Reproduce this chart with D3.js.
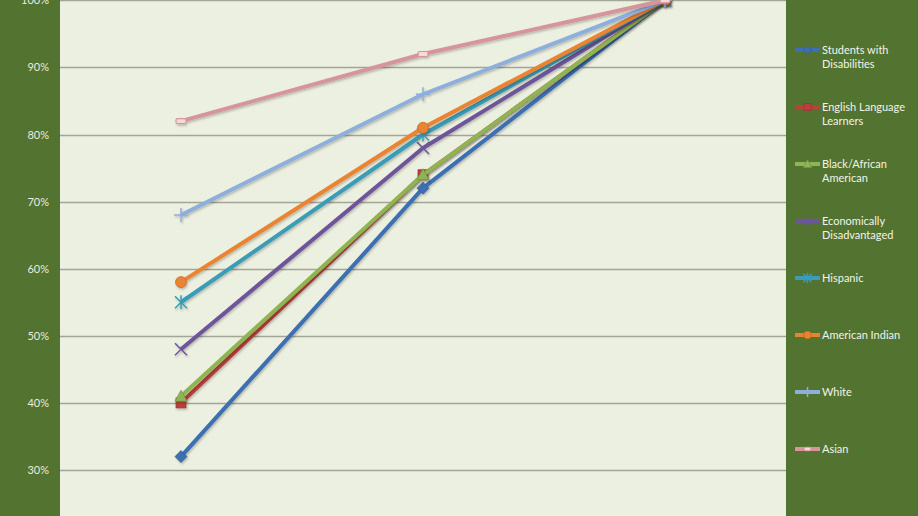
<!DOCTYPE html>
<html><head><meta charset="utf-8">
<script src="https://cdn.jsdelivr.net/npm/d3@7"></script>
<style>
html,body{margin:0;padding:0;background:#537330;}
svg{display:block;}
text{font-family:Lato,"Open Sans",sans-serif;}
</style></head>
<body>
<svg id="c" width="918" height="516"></svg>
<script>
const categories = ["A", "B", "C"];
const seriesNames = ["Students with Disabilities","English Language Learners","Black/African American","Economically Disadvantaged","Hispanic","American Indian","White","Asian"];
const swd = [32, 72, 100];
const ell = [40, 74, 100];
const black = [41, 74, 100];
const econ = [48, 78, 100];
const hispanic = [55, 80, 100];
const amIndian = [58, 81, 100];
const white = [68, 86, 100];
const asian = [82, 92, 100];
const yTicks = [30, 40, 50, 60, 70, 80, 90, 100];
const legendLines = [["Students with","Disabilities"],["English Language","Learners"],["Black/African","American"],["Economically","Disadvantaged"],["Hispanic"],["American Indian"],["White"],["Asian"]];

const values = [swd, ell, black, econ, hispanic, amIndian, white, asian];
const colors = ["#3d6fb2","#b8413c","#8fb553","#6e559b","#3a9cb8","#ea8330","#8eafdc","#d6959a"];
const markers = ["diamond","square","triangle","x","star","circle","plus","dash"];

const svg = d3.select("#c");
const W = 918, H = 516;
const plot = {l:60, r:786, t:0, b:516};
svg.append("rect").attr("x",0).attr("y",0).attr("width",W).attr("height",H).attr("fill","#537330");
svg.append("rect").attr("x",plot.l).attr("y",plot.t).attr("width",plot.r-plot.l).attr("height",plot.b-plot.t).attr("fill","#ecf0e0");

const x = d3.scalePoint().domain(categories).range([plot.l, plot.r]).padding(0.5);
const y = d3.scaleLinear().domain([30, 100]).range([470, 0.3]);

// gridlines
svg.append("g").selectAll("line").data(yTicks).join("line")
  .attr("x1",plot.l).attr("x2",plot.r)
  .attr("y1",d=>Math.round(y(d))+0.5).attr("y2",d=>Math.round(y(d))+0.5)
  .attr("stroke","#a3a596").attr("stroke-width",1.3);

// y axis labels
const yAxis = d3.axisLeft(y).tickValues(yTicks).tickFormat(d=>d+"%").tickSize(0).tickPadding(11);
const ga = svg.append("g").attr("transform",`translate(${plot.l},0)`).call(yAxis);
ga.select(".domain").remove();
ga.selectAll("text").attr("fill","#e9ecdc").style("font-size","11px").style("font-family","Lato, 'Open Sans', sans-serif");

const defs = svg.append("defs");
const f = defs.append("filter").attr("id","sh").attr("x","-20%").attr("y","-20%").attr("width","140%").attr("height","140%");
f.append("feDropShadow").attr("dx",1).attr("dy",1.5).attr("stdDeviation",1).attr("flood-color","#000").attr("flood-opacity",0.25);

function drawMarker(g, type, cx, cy, color, s) {
  s = s || 1;
  const dark = d3.color(color).darker(0.6);
  if (type==="diamond") {
    g.append("path").attr("d",`M${cx},${cy-6*s}L${cx+6*s},${cy}L${cx},${cy+6*s}L${cx-6*s},${cy}Z`).attr("fill",color).attr("stroke",dark).attr("stroke-width",0.7);
  } else if (type==="square") {
    g.append("rect").attr("x",cx-5*s).attr("y",cy-5*s).attr("width",10*s).attr("height",10*s).attr("fill",color).attr("stroke",dark).attr("stroke-width",0.7);
  } else if (type==="triangle") {
    g.append("path").attr("d",`M${cx},${cy-6*s}L${cx+6*s},${cy+5*s}L${cx-6*s},${cy+5*s}Z`).attr("fill",color).attr("stroke",dark).attr("stroke-width",0.7);
  } else if (type==="x") {
    g.append("path").attr("d",`M${cx-6*s},${cy-6*s}L${cx+6*s},${cy+6*s}M${cx+6*s},${cy-6*s}L${cx-6*s},${cy+6*s}`).attr("stroke",color).attr("stroke-width",1.5);
  } else if (type==="star") {
    g.append("path").attr("d",`M${cx-6*s},${cy-6*s}L${cx+6*s},${cy+6*s}M${cx+6*s},${cy-6*s}L${cx-6*s},${cy+6*s}M${cx},${cy-7*s}L${cx},${cy+7*s}`).attr("stroke",color).attr("stroke-width",1.5);
  } else if (type==="circle") {
    g.append("circle").attr("cx",cx).attr("cy",cy).attr("r",5.5*s).attr("fill",color).attr("stroke",dark).attr("stroke-width",0.7);
  } else if (type==="plus") {
    g.append("path").attr("d",`M${cx-7*s},${cy}L${cx+7*s},${cy}M${cx},${cy-7*s}L${cx},${cy+7*s}`).attr("stroke",color).attr("stroke-width",1.5);
  } else if (type==="dash") {
    g.append("rect").attr("x",cx-5*s).attr("y",cy-2.5*s).attr("width",10*s).attr("height",5*s).attr("rx",1.5).attr("fill","#f3dadb").attr("stroke",color).attr("stroke-width",1.2);
  }
}

const line = d3.line().x((d,i)=>x(categories[i])).y(d=>y(d));
values.forEach((vals, si) => {
  const g = svg.append("g").attr("filter","url(#sh)");
  g.append("path").datum(vals).attr("d",line).attr("fill","none")
    .attr("stroke",colors[si]).attr("stroke-width",4).attr("stroke-linejoin","round");
  vals.forEach((v,i)=>drawMarker(g, markers[si], x(categories[i]), y(v), colors[si], 1));
});

// legend
const lg = svg.append("g");
seriesNames.forEach((name, i) => {
  const yy = 50 + i*57;
  const g = lg.append("g");
  g.append("line").attr("x1",795).attr("x2",820).attr("y1",yy).attr("y2",yy).attr("stroke",colors[i]).attr("stroke-width",4);
  drawMarker(g, markers[i], 807.5, yy, colors[i], 0.7);
  const t = g.append("text").attr("x",822).attr("y",yy+4).attr("fill","#f2f4ea").style("font-size","11px");
  legendLines[i].forEach((ln, k) => {
    t.append("tspan").attr("x",822).attr("dy",k===0?0:14).text(ln);
  });
});
</script>
</body></html>
